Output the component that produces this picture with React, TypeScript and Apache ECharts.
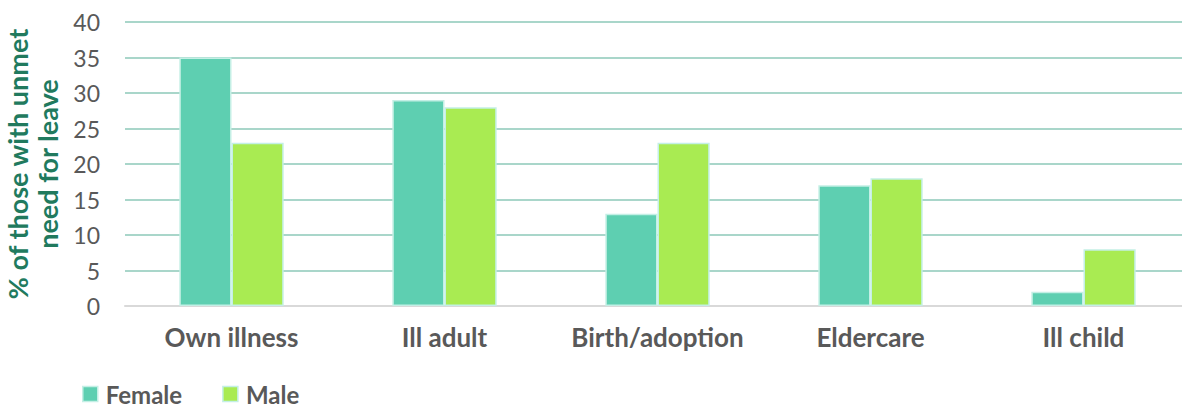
import React, { useEffect, useRef } from "react";
import * as echarts from "echarts";

const categories = ["Own illness", "Ill adult", "Birth/adoption", "Eldercare", "Ill child"];
const femaleValues = [35, 29, 13, 17, 2];
const maleValues = [23, 28, 23, 18, 8];
const yTicks = { min: 0, max: 40, interval: 5 };

export default function App() {
  const ref = useRef<HTMLDivElement>(null);
  useEffect(() => {
    if (!ref.current) return;
    const chart = echarts.init(ref.current, undefined, { renderer: "svg" });
    const font = "Lato, 'Noto Sans', sans-serif";
    chart.setOption({
      animation: false,
      textStyle: { fontFamily: font },
      grid: { left: 125, right: -8, top: 22, bottom: 101, containLabel: false, outerBoundsMode: "none" },
      legend: {
        left: 77,
        top: 377,
        itemWidth: 15,
        itemHeight: 15,
        itemGap: 40,
        icon: "rect",
        itemStyle: { borderColor: "#c4efe5", borderWidth: 1.5 },
        textStyle: { fontFamily: font, fontSize: 24, fontWeight: "bold", color: "#595959", lineHeight: 24, padding: [0, 0, 0, 3] },
        data: ["Female", "Male"],
      },
      xAxis: {
        type: "category",
        data: categories,
        axisLine: { lineStyle: { color: "#d9d9d9", width: 2 } },
        axisTick: { show: false },
        axisLabel: { interval: 0, fontFamily: font, fontSize: 26, fontWeight: "bold", color: "#595959", margin: 18 },
      },
      yAxis: {
        type: "value",
        min: yTicks.min,
        max: yTicks.max,
        interval: yTicks.interval,
        name: "% of those with unmet\nneed for leave",
        nameLocation: "middle",
        nameRotate: 90,
        nameGap: 56,
        nameTextStyle: { fontFamily: font, fontSize: 27, fontWeight: "bold", color: "#217a5e", lineHeight: 30 },
        axisLine: { show: false },
        axisTick: { show: false },
        axisLabel: { fontFamily: font, fontSize: 23, color: "#595959", margin: 25 },
        splitLine: { lineStyle: { color: "#a9d6ca", width: 2 } },
      },
      series: [
        {
          name: "Female",
          type: "bar",
          data: femaleValues,
          barGap: "0%",
          barCategoryGap: "51%",
          itemStyle: { color: "#5ecfb1", borderColor: "#c4efe5", borderWidth: 1.5 },
        },
        {
          name: "Male",
          type: "bar",
          data: maleValues,
          barGap: "0%",
          barCategoryGap: "51%",
          itemStyle: { color: "#a9eb52", borderColor: "#c4efe5", borderWidth: 1.5 },
        },
      ],
    });
    return () => chart.dispose();
  }, []);
  return <div ref={ref} style={{ width: 1182, height: 407, position: "absolute", left: 0, top: 0 }} />;
}
